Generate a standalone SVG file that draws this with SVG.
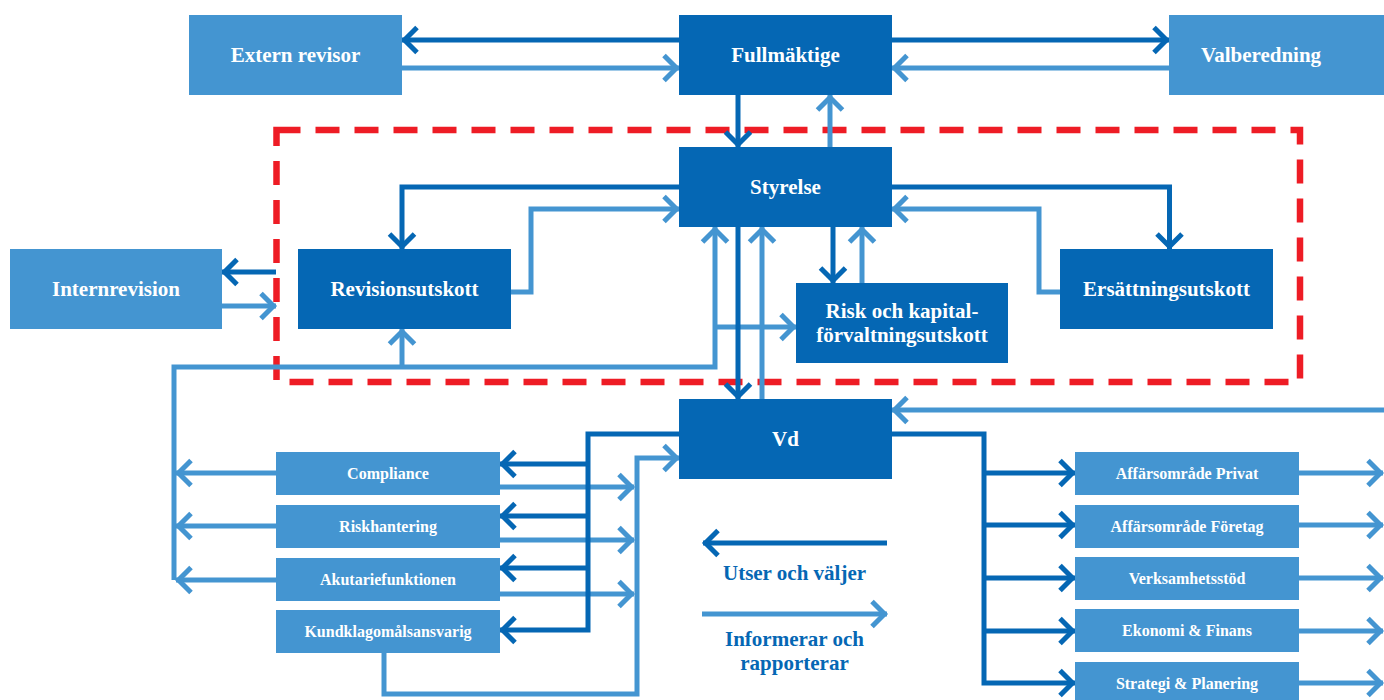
<svg xmlns="http://www.w3.org/2000/svg" width="1384" height="700" viewBox="0 0 1384 700">
<style>
.dk{fill:#0567b4}
.lt{fill:#4495d1}
.t{font-family:"Liberation Serif","DejaVu Serif",serif;font-weight:bold;fill:#ffffff;text-anchor:middle}
.big{font-size:21px}
.sm{font-size:16px}
.leg{font-family:"Liberation Serif","DejaVu Serif",serif;font-weight:bold;fill:#0567b4;text-anchor:middle;font-size:21px}
.cd{fill:none;stroke:#0567b4;stroke-width:5;marker-end:url(#ad)}
.cl{fill:none;stroke:#4495d1;stroke-width:5;marker-end:url(#al)}
</style>
<defs>
<marker id="ad" markerUnits="userSpaceOnUse" markerWidth="40" markerHeight="40" viewBox="-20 -20 40 40" refX="0" refY="0" orient="auto" overflow="visible"><path d="M-15,-12.5 L-2.5,0 L-15,12.5" fill="none" stroke="#0567b4" stroke-width="5"/></marker>
<marker id="al" markerUnits="userSpaceOnUse" markerWidth="40" markerHeight="40" viewBox="-20 -20 40 40" refX="0" refY="0" orient="auto" overflow="visible"><path d="M-15,-12.5 L-2.5,0 L-15,12.5" fill="none" stroke="#4495d1" stroke-width="5"/></marker>
</defs>
<rect width="1384" height="700" fill="#ffffff"/>
<rect id="boundary" x="276.5" y="130" width="1023.5" height="252" fill="none" stroke="#ee1c25" stroke-width="6.5" stroke-dasharray="24 15"/>
<g id="connectors">
<path class="cd" d="M679,40 H402"/>
<path class="cl" d="M402,68 H679"/>
<path class="cd" d="M892,40 H1169"/>
<path class="cl" d="M1169,68 H892"/>
<path class="cd" d="M738,95 V147"/>
<path class="cl" d="M830,147 V95"/>
<path class="cd" d="M679,187 H402 V249"/>
<path class="cl" d="M511,292 H531 V209 H679"/>
<path class="cd" d="M892,187 H1169.5 V249"/>
<path class="cl" d="M1060,292 H1039 V209 H892"/>
<path class="cd" d="M833,227 V283"/>
<path class="cl" d="M862,283 V227"/>
<path class="cl" d="M174,580 V367 H715 V227"/>
<path class="cl" d="M402,367 V329"/>
<path class="cl" d="M715,327 H796"/>
<path class="cl" d="M762,399 V227"/>
<path class="cd" d="M738,227 V399"/>
<path class="cd" d="M276,272 H222"/>
<path class="cl" d="M222,306 H276"/>
<path class="cl" d="M276,473 H176"/>
<path class="cl" d="M276,526 H176"/>
<path class="cl" d="M276,580 H176"/>
<path class="cl" d="M500,487 H634"/>
<path class="cl" d="M500,540 H634"/>
<path class="cl" d="M500,594 H634"/>
<path class="cl" d="M384,653 V694 H637 V458 H679"/>
<path class="cd" d="M679,434 H588 V630 H500"/>
<path class="cd" d="M590,464 H500"/>
<path class="cd" d="M590,516 H500"/>
<path class="cd" d="M590,568 H500"/>
<path class="cl" d="M1384,410 H892"/>
<path class="cd" d="M892,434 H984 V683 H1075"/>
<path class="cd" d="M982,473 H1075"/>
<path class="cd" d="M982,525 H1075"/>
<path class="cd" d="M982,578 H1075"/>
<path class="cd" d="M982,631 H1075"/>
<path class="cl" d="M1299,473 H1383"/>
<path class="cl" d="M1299,525 H1383"/>
<path class="cl" d="M1299,578 H1383"/>
<path class="cl" d="M1299,631 H1383"/>
<path class="cl" d="M1299,683 H1383"/>
</g>
<g id="n-extern"><rect class="lt" x="189" y="15" width="213" height="80"/><text class="t big" x="295.5" y="62">Extern revisor</text></g>
<g id="n-fullmaktige"><rect class="dk" x="679" y="15" width="213" height="80"/><text class="t big" x="785.5" y="62">Fullmäktige</text></g>
<g id="n-valberedning"><rect class="lt" x="1169" y="15" width="215" height="80"/><text class="t big" x="1261" y="62">Valberedning</text></g>
<g id="n-styrelse"><rect class="dk" x="679" y="147" width="213" height="80"/><text class="t big" x="785.5" y="194">Styrelse</text></g>
<g id="n-internrevision"><rect class="lt" x="10" y="249" width="212" height="80"/><text class="t big" x="116" y="296">Internrevision</text></g>
<g id="n-revisionsutskott"><rect class="dk" x="298" y="249" width="213" height="80"/><text class="t big" x="404.5" y="296">Revisionsutskott</text></g>
<g id="n-risk"><rect class="dk" x="796" y="283" width="212" height="80"/><text class="t big" x="902" y="318">Risk och kapital-</text><text class="t big" x="902" y="342">förvaltningsutskott</text></g>
<g id="n-ersattning"><rect class="dk" x="1060" y="249" width="213" height="80"/><text class="t big" x="1166.5" y="296">Ersättningsutskott</text></g>
<g id="n-vd"><rect class="dk" x="679" y="399" width="213" height="80"/><text class="t big" x="785.5" y="446">Vd</text></g>
<g id="n-compliance"><rect class="lt" x="276" y="452" width="224" height="43"/><text class="t sm" x="388" y="479">Compliance</text></g>
<g id="n-riskhantering"><rect class="lt" x="276" y="505" width="224" height="43"/><text class="t sm" x="388" y="532">Riskhantering</text></g>
<g id="n-akutarie"><rect class="lt" x="276" y="558" width="224" height="43"/><text class="t sm" x="388" y="585">Akutariefunktionen</text></g>
<g id="n-kundklagomal"><rect class="lt" x="276" y="610" width="224" height="43"/><text class="t sm" x="388" y="637">Kundklagomålsansvarig</text></g>
<g id="n-privat"><rect class="lt" x="1075" y="452" width="224" height="43"/><text class="t sm" x="1187" y="479">Affärsområde Privat</text></g>
<g id="n-foretag"><rect class="lt" x="1075" y="505" width="224" height="43"/><text class="t sm" x="1187" y="532">Affärsområde Företag</text></g>
<g id="n-verksamhet"><rect class="lt" x="1075" y="557" width="224" height="43"/><text class="t sm" x="1187" y="584">Verksamhetsstöd</text></g>
<g id="n-ekonomi"><rect class="lt" x="1075" y="609" width="224" height="43"/><text class="t sm" x="1187" y="636">Ekonomi &amp; Finans</text></g>
<g id="n-strategi"><rect class="lt" x="1075" y="662" width="224" height="43"/><text class="t sm" x="1187" y="689">Strategi &amp; Planering</text></g>
<g id="legend">
<path class="cd" d="M887,543 H703"/>
<text class="leg" x="794.5" y="580">Utser och väljer</text>
<path class="cl" d="M702,614 H887"/>
<text class="leg" x="794.5" y="646">Informerar och</text>
<text class="leg" x="794.5" y="670">rapporterar</text>
</g>
</svg>
